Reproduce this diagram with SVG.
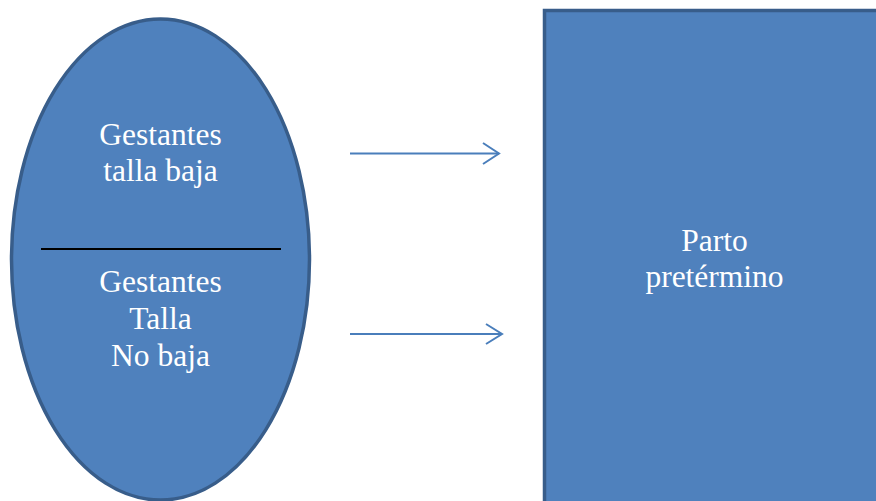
<svg xmlns="http://www.w3.org/2000/svg" width="876" height="501" viewBox="0 0 876 501">
<style>
.shape{fill:#4f81bd;stroke:#385d8a;stroke-width:3.5}
.lbl{font-size:31.5px;fill:#ffffff;text-anchor:middle}
.conn{stroke:#4a7ebb;stroke-width:2;fill:none}
</style>
<rect width="876" height="501" fill="#ffffff"/>
<g id="ellipse-node" font-family="Liberation Serif, serif">
<ellipse class="shape" cx="160.5" cy="259.5" rx="149" ry="240.5"/>
<line x1="41" y1="249" x2="281" y2="249" stroke="#000000" stroke-width="2"/>
<text class="lbl" x="160.5" y="145">Gestantes</text>
<text class="lbl" x="160.5" y="181">talla baja</text>
<text class="lbl" x="160.5" y="292">Gestantes</text>
<text class="lbl" x="160.5" y="329">Talla</text>
<text class="lbl" x="160.5" y="366">No baja</text>
</g>
<g id="rect-node" font-family="Liberation Serif, serif">
<rect class="shape" x="544.5" y="10.5" width="340" height="500"/>
<text class="lbl" x="714.5" y="251">Parto</text>
<text class="lbl" x="714.5" y="287">pretérmino</text>
</g>
<g id="connectors">
<line class="conn" x1="350" y1="153.5" x2="499" y2="153.5"/>
<polyline class="conn" points="483,143 499,153.5 483,164"/>
<line class="conn" x1="350" y1="334" x2="502" y2="334"/>
<polyline class="conn" points="486,324 502,334 486,344"/>
</g>
</svg>
